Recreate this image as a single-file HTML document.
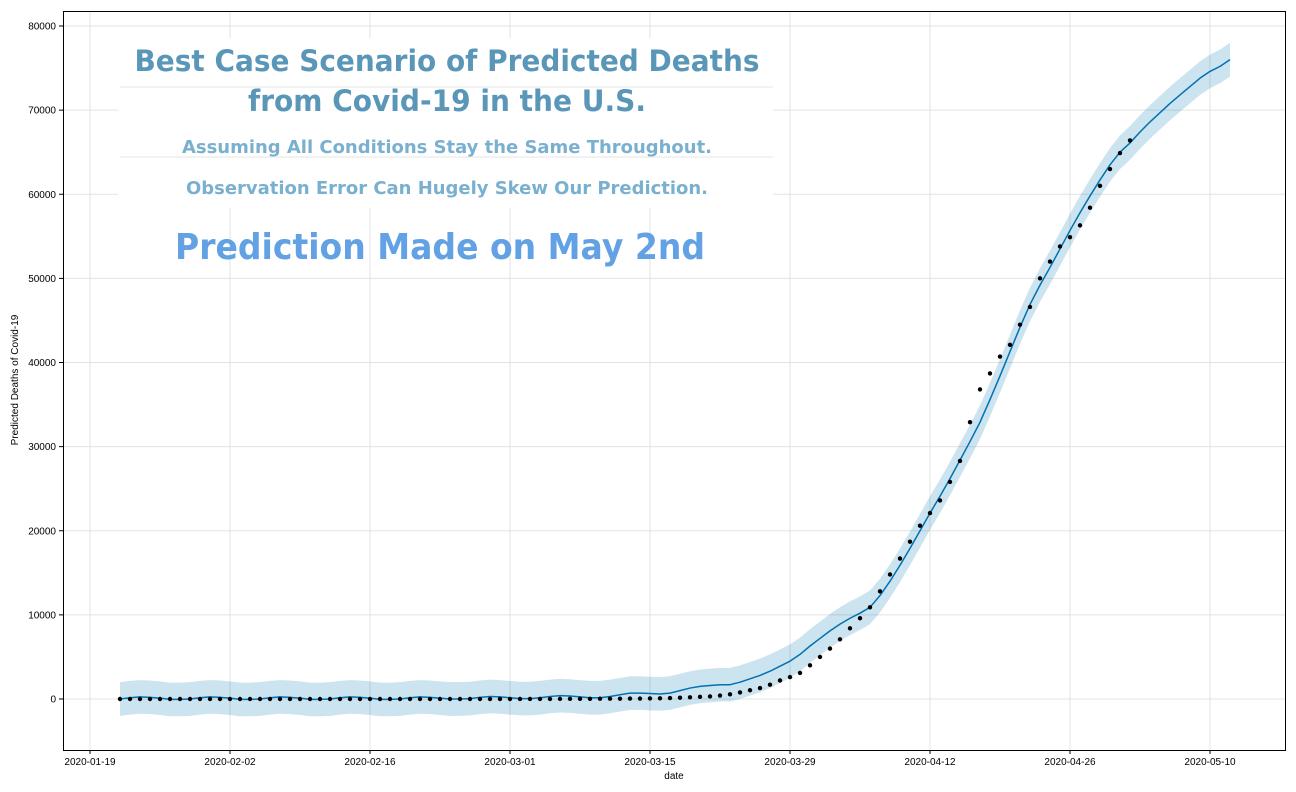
<!DOCTYPE html>
<html><head><meta charset="utf-8"><style>
html,body{margin:0;padding:0;background:#fff;}
svg{display:block;font-family:"DejaVu Sans","Liberation Sans",sans-serif;}
</style></head><body>
<svg id="chart" width="1296" height="792" viewBox="0 0 1296 792" xmlns="http://www.w3.org/2000/svg">
<rect x="0" y="0" width="1296" height="792" fill="#fff"/>
<g id="grid"></g>
<g id="band"></g>
<g id="line"></g>
<g id="dots"></g>
<rect x="63.5" y="11.5" width="1222" height="739" fill="none" stroke="#000" stroke-width="1"/>
<g id="xticks" font-size="10" font-family="Liberation Sans, sans-serif"></g>
<g id="yticks" font-size="10" font-family="Liberation Sans, sans-serif"></g>
<text x="674" y="779" text-anchor="middle" font-size="10" font-family="Liberation Sans, sans-serif">date</text>
<text transform="translate(18,380) rotate(-90)" text-anchor="middle" font-size="10" font-family="Liberation Sans, sans-serif">Predicted Deaths of Covid-19</text>
<g>
<rect x="118" y="38" width="655" height="170" fill="#fff" fill-opacity="0.9"/>
<line x1="120" y1="87" x2="773" y2="87" stroke="#e4e4e4"/>
<line x1="120" y1="157" x2="773" y2="157" stroke="#e4e4e4"/>
<text x="447" y="71" text-anchor="middle" font-size="29" font-weight="bold" fill="#5a96b8" textLength="625" lengthAdjust="spacingAndGlyphs">Best Case Scenario of Predicted Deaths</text>
<text x="447" y="111" text-anchor="middle" font-size="29" font-weight="bold" fill="#5a96b8" textLength="398" lengthAdjust="spacingAndGlyphs">from Covid-19 in the U.S.</text>
<text x="447" y="153" text-anchor="middle" font-size="18" font-weight="bold" fill="#7ab0cf" textLength="530" lengthAdjust="spacingAndGlyphs">Assuming All Conditions Stay the Same Throughout.</text>
<text x="447" y="194" text-anchor="middle" font-size="18" font-weight="bold" fill="#7ab0cf" textLength="522" lengthAdjust="spacingAndGlyphs">Observation Error Can Hugely Skew Our Prediction.</text>
</g>
<text x="440" y="259" text-anchor="middle" font-size="36" font-weight="bold" fill="#62a1e3" textLength="530" lengthAdjust="spacingAndGlyphs">Prediction Made on May 2nd</text>
</svg>
<script>
const startDate = "2020-01-22";
const observed = [0,0,0,0,0,0,0,0,0,0, 0,0,0,0,0,0,0,0,0,0, 0,0,0,0,0,0,0,0,0,0, 0,0,0,0,0,0,0,0,1,1,
6,9,11,12,15,19,22,26,30,38, 41,48,57,68,86,109,150,206,255,301,
414,555,780,1040,1300,1700,2200,2600,3100,4000,
5000,6000,7100,8400,9600,10900,12800,14800,16700,18700,
20600,22100,23600,25800,28300,32900,36800,38700,40700,42100,
44500,46600,50000,52000,53800,54900,56300,58400,61000,63000,64900,66400];
const yhat = [0,150,250,200,100,-50,-50, 0,150,250,200,100,-50,-50, 0,150,250,200,100,-50,-50, 0,150,250,200,100,-50,-50,
0,150,250,200,100,0,0, 50,200,300,250,150,50,50, 150,300,400,350,250,150,150,
300,500,700,700,650,600,700, 1000,1300,1500,1600,1700,1700,2000,
2400,2800,3300,3900,4500,5300,6300, 7200,8100,8900,9600,10200,10900,12300,
14000,15900,17900,20000,22100,24100,26200, 28400,30600,32900,35600,38400,41300,44200,
46900,49200,51300,53500,55700,57800,59800, 61700,63500,65000,66100,67400,68600,69700,
70800,71800,72800,73800,74600,75200,76000];
const intervalHalfWidth = 2000;
const xTickLabels = ["2020-01-19","2020-02-02","2020-02-16","2020-03-01","2020-03-15","2020-03-29","2020-04-12","2020-04-26","2020-05-10"];
const yTickValues = [0,10000,20000,30000,40000,50000,60000,70000,80000];

const NS="http://www.w3.org/2000/svg";
const L=63,R=1285,T=11,B=750;
const dayMs=86400000;
const x0=Date.parse("2020-01-19T00:00:00Z"), px0=90, pxPerDay=10;
function xDate(s){return px0+(Date.parse(s+"T00:00:00Z")-x0)/dayMs*pxPerDay;}
function xIdx(i){return xDate(startDate)+i*pxPerDay;}
function y(v){return 699-v*(673/80000);}
function mk(tag,attrs,parent){const e=document.createElementNS(NS,tag);for(const k in attrs)e.setAttribute(k,attrs[k]);parent.appendChild(e);return e;}
const grid=document.getElementById('grid');
xTickLabels.forEach(s=>{const x=xDate(s);mk('line',{x1:x,x2:x,y1:T,y2:B,stroke:'#e3e3e3','stroke-width':1},grid);});
yTickValues.forEach(v=>{mk('line',{x1:L,x2:R,y1:y(v),y2:y(v),stroke:'#e3e3e3','stroke-width':1},grid);});
let up=yhat.map((v,i)=>xIdx(i)+','+y(v+intervalHalfWidth));
let lo=yhat.map((v,i)=>xIdx(i)+','+y(v-intervalHalfWidth)).reverse();
const band=mk('polygon',{points:up.concat(lo).join(' '),fill:'#0072B2','fill-opacity':0.2},document.getElementById('band'));


const ln=mk('polyline',{points:yhat.map((v,i)=>xIdx(i)+','+y(v)).join(' '),fill:'none',stroke:'#0072B2','stroke-width':1.5,'stroke-linejoin':'round'},document.getElementById('line'));


const dots=document.getElementById('dots');
observed.forEach((v,i)=>{const c=mk('circle',{cx:xIdx(i),cy:y(v),r:2.2,fill:'#000'},dots);

});
const xt=document.getElementById('xticks');
xTickLabels.forEach(s=>{const x=xDate(s);
mk('line',{x1:x,x2:x,y1:B,y2:B+4,stroke:'#000'},xt);
const t=mk('text',{x:x,y:B+15,'text-anchor':'middle'},xt);t.textContent=s;

});
const yt=document.getElementById('yticks');
yTickValues.forEach(v=>{const yy=y(v);
mk('line',{x1:L-4,x2:L,y1:yy,y2:yy,stroke:'#000'},yt);
const t=mk('text',{x:L-7,y:yy+3.5,'text-anchor':'end'},yt);t.textContent=String(v);

});
</script>
</body></html>
